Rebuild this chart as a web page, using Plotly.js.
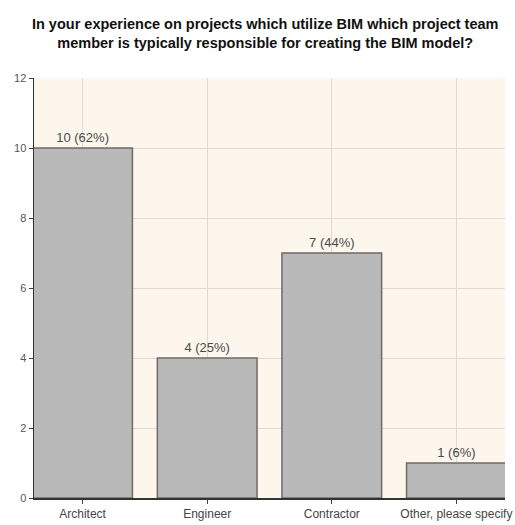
<!DOCTYPE html>
<html>
<head>
<meta charset="utf-8">
<script src="https://cdn.plot.ly/plotly-3.0.1.min.js"></script>
<style>html,body{margin:0;padding:0;background:#fff;}#chart{width:515px;height:525px;}</style>
</head>
<body>
<div id="chart"></div>
<script>
const categories = ["Architect", "Engineer", "Contractor", "Other, please specify"];
const counts = [10, 4, 7, 1];
const percents = [62, 25, 44, 6];
const yTicks = [0, 2, 4, 6, 8, 10, 12];

const labels = counts.map((c, i) => c + " (" + percents[i] + "%)");
const FONT = "Liberation Sans, Arial, sans-serif";

const trace = {
  type: "bar",
  x: categories,
  y: counts,
  width: 0.8,
  text: labels,
  textposition: "outside",
  cliponaxis: false,
  textfont: {family: FONT, size: 13, color: "#4a4a4a"},
  marker: {color: "#b9b9b9", line: {color: "#6f6a66", width: 1.5}},
  hoverinfo: "none"
};

const layout = {
  width: 515,
  height: 525,
  margin: {l: 34, r: 10, t: 78, b: 27},
  paper_bgcolor: "#ffffff",
  plot_bgcolor: "#fdf6ec",
  showlegend: false,
  title: {
    text: "In your experience on projects which utilize BIM which project team<br>member is typically responsible for creating the BIM model?",
    font: {family: FONT, size: 14.5, color: "#111", weight: "bold"},
    x: 0.515, xanchor: "center",
    y: 0.945, yanchor: "middle", yref: "container"
  },
  xaxis: {
    range: [-0.39, 3.39],
    showgrid: true, gridcolor: "#dedad5", gridwidth: 1,
    showline: true, linecolor: "#333", linewidth: 1.5,
    ticks: "outside", ticklen: 4, tickcolor: "#444",
    tickfont: {family: FONT, size: 12, color: "#444"},
    fixedrange: true
  },
  yaxis: {
    range: [0, 12],
    tickvals: yTicks,
    showgrid: true, gridcolor: "#dedad5", gridwidth: 1,
    showline: true, linecolor: "#333", linewidth: 1.5,
    ticks: "outside", ticklen: 4, tickcolor: "#444",
    tickfont: {family: FONT, size: 11, color: "#555"},
    zeroline: false,
    fixedrange: true
  }
};

Plotly.newPlot("chart", [trace], layout, {staticPlot: true, displayModeBar: false});
</script>
</body>
</html>
